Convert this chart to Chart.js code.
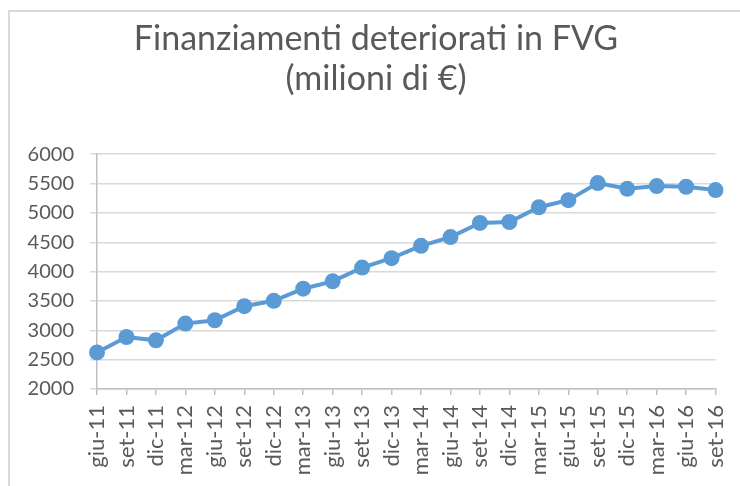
<!DOCTYPE html>
<html>
<head>
<meta charset="utf-8">
<script src="https://cdn.jsdelivr.net/npm/chart.js@4.4.1/dist/chart.umd.min.js"></script>
<style>
  html, body { margin: 0; padding: 0; background: #fff; }
  body { width: 740px; height: 486px; position: relative; overflow: hidden; }
  #frame {
    position: absolute; left: 8px; top: 10px; width: 732px; height: 476px;
    border-left: 2px solid #d9d9d9; border-top: 2px solid #d9d9d9;
  }
  #wrap { position: absolute; left: 0; top: 0; width: 742px; height: 474px; }
</style>
</head>
<body>
<div id="frame"><div id="wrap"><canvas id="chart"></canvas></div></div>
<script>
const categories = ['giu-11', 'set-11', 'dic-11', 'mar-12', 'giu-12', 'set-12', 'dic-12', 'mar-13',
  'giu-13', 'set-13', 'dic-13', 'mar-14', 'giu-14', 'set-14', 'dic-14', 'mar-15',
  'giu-15', 'set-15', 'dic-15', 'mar-16', 'giu-16', 'set-16'];
const values = [2623, 2886, 2829, 3114, 3171, 3411, 3503, 3709,
  3834, 4069, 4229, 4440, 4589, 4829, 4846, 5097,
  5217, 5509, 5411, 5457, 5446, 5389];
const titleLines = ['Finanziamenti deteriorati in FVG', '(milioni di €)'];
const yMin = 2000, yMax = 6000, yStep = 500;

const textColor = '#595959';
const lineColor = '#5b9bd5';
const fontFamily = 'Lato, "Open Sans", sans-serif';

new Chart(document.getElementById('chart'), {
  type: 'line',
  data: {
    labels: categories,
    datasets: [{
      data: values,
      borderColor: lineColor,
      backgroundColor: lineColor,
      borderWidth: 4,
      pointRadius: 8,
      pointBackgroundColor: lineColor,
      pointBorderColor: lineColor,
      pointBorderWidth: 0,
      tension: 0
    }]
  },
  options: {
    responsive: true,
    maintainAspectRatio: false,
    animation: false,
    layout: { padding: { left: 17, right: 27, top: 0, bottom: 0 } },
    plugins: {
      legend: { display: false },
      tooltip: { enabled: false },
      title: {
        display: true,
        text: titleLines,
        color: textColor,
        font: { family: fontFamily, size: 34, weight: 'normal', lineHeight: 1.18 },
        padding: { top: 7, bottom: 55 }
      }
    },
    scales: {
      x: {
        offset: false,
        grid: {
          drawOnChartArea: false,
          drawTicks: true,
          tickLength: 6,
          color: '#bfbfbf',
          lineWidth: 1.5
        },
        border: { display: true, color: '#bfbfbf', width: 1.5 },
        ticks: {
          color: textColor,
          font: { family: fontFamily, size: 22 },
          minRotation: 90,
          maxRotation: 90,
          padding: 10,
          autoSkip: false
        },
        afterFit: (scale) => { scale.height = 97; }
      },
      y: {
        min: yMin,
        max: yMax,
        grid: {
          color: '#d9d9d9',
          lineWidth: 1.5,
          drawTicks: true,
          tickLength: 7
        },
        border: { display: true, color: '#bfbfbf', width: 1.5 },
        ticks: {
          stepSize: yStep,
          color: textColor,
          font: { family: fontFamily, size: 20 },
          padding: 16,
          callback: (v) => String(v)
        },
        afterFit: (scale) => { scale.width = 70; }
      }
    }
  }
});
</script>
</body>
</html>
